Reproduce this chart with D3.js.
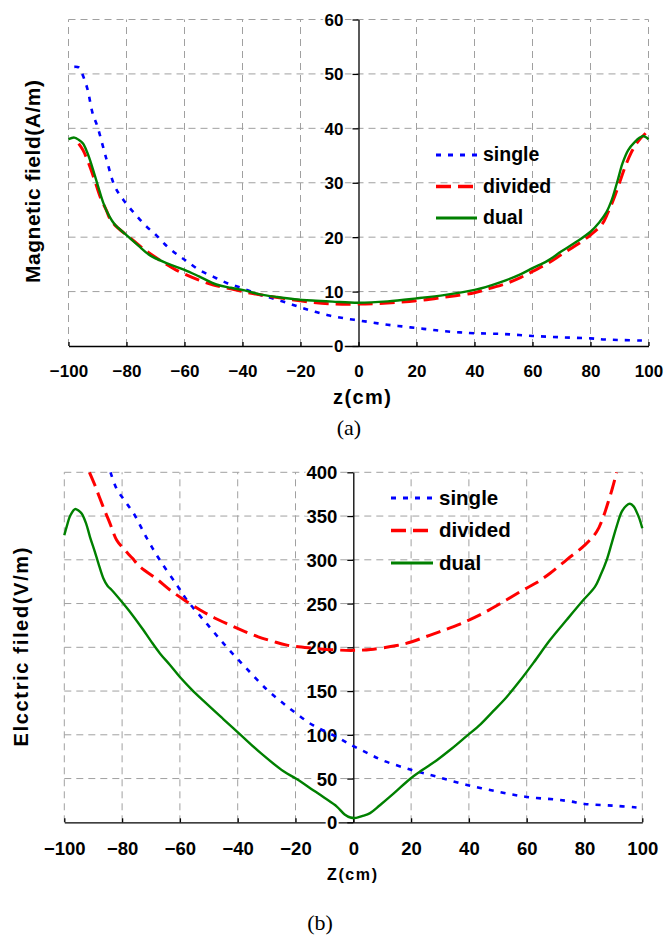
<!DOCTYPE html>
<html>
<head>
<meta charset="utf-8">
<script src="https://cdn.jsdelivr.net/npm/d3@7"></script>
<style>
  body { margin: 0; background: #fff; }
  svg { display: block; }
  text { font-family: "Liberation Sans", Arial, sans-serif; font-weight: bold; fill: #000; }
</style>
</head>
<body>
<div id="body"></div>
<script>
// ---- data ----
const xTicks = [-100, -80, -60, -40, -20, 0, 20, 40, 60, 80, 100];
const magTicks = [0, 10, 20, 30, 40, 50, 60];
const elecTicks = [0, 50, 100, 150, 200, 250, 300, 350, 400];
const seriesNames = ['single', 'divided', 'dual'];

// (a) magnetic field, A/m
const magSingleZ = [-98, -96.5, -95.5, -93.5, -91.7, -90, -87, -84, -81, -77, -73, -70, -66, -62, -59, -55, -50, -45, -40, -35, -30, -25, -20, -15, -10, -5, 0, 5, 10, 15, 20, 25, 30, 35, 40, 50, 60, 70, 80, 85, 90, 98];
const magSingleH = [51.3, 51.2, 50.3, 47.3, 42.8, 40.3, 34.5, 29.3, 26.8, 24.2, 21.9, 20.5, 18.3, 16.6, 15.5, 14.0, 12.7, 11.5, 10.6, 9.6, 8.8, 8.0, 7.1, 6.3, 5.6, 5.1, 4.7, 4.3, 3.9, 3.6, 3.3, 3.0, 2.7, 2.5, 2.35, 2.2, 1.85, 1.6, 1.4, 1.2, 1.1, 1.0];
const magDividedZ = [-96.5, -95, -93, -91, -89, -87, -85.5, -83, -79, -75, -70, -63, -55, -50, -44, -36, -26, -17, -9, 0, 10, 20, 30, 40, 46, 51, 56, 60, 65, 70, 75, 80, 84, 86, 88, 90, 92, 94, 96, 97, 99];
const magDividedH = [37.2, 36.0, 33.5, 30.5, 27.3, 25.0, 23.2, 21.7, 20.0, 18.2, 16.3, 14.0, 12.1, 11.2, 10.5, 9.6, 8.75, 8.1, 7.75, 7.7, 7.9, 8.3, 9.0, 9.8, 10.7, 11.5, 12.6, 13.7, 15.1, 16.8, 18.5, 20.4, 22.4, 24.5, 27.0, 30.0, 33.0, 35.5, 37.3, 38.0, 39.1];
const magDualZ = [-100, -98, -96.5, -95, -93.5, -92, -90, -88, -86, -84, -80.5, -76, -72, -66, -60, -55, -49, -44, -40, -34, -28, -22, -16, -9, 0, 10, 20, 30, 40, 46, 51, 56, 60, 65, 70, 75, 80, 83, 85.5, 87.3, 89.4, 91, 93, 95.3, 97, 98.2, 99, 100];
const magDualH = [38.0, 38.3, 37.9, 37.2, 35.5, 33.2, 29.7, 26.3, 23.9, 22.3, 20.6, 18.5, 16.7, 15.2, 14.0, 12.8, 11.3, 10.7, 10.3, 9.5, 9.0, 8.6, 8.35, 8.15, 7.95, 8.2, 8.75, 9.4, 10.3, 11.2, 12.1, 13.2, 14.3, 15.6, 17.4, 19.1, 21.0, 22.7, 24.6, 26.8, 30.5, 33.5, 36.0, 37.5, 38.3, 38.6, 38.4, 38.0];

// (b) electric field, V/m
const elecSingleZ = [-84, -82, -79, -76, -71.5, -67, -61, -57.6, -50.7, -44, -37, -30, -25, -20, -14, -6, 0, 5, 10, 20, 29, 39, 50, 60, 70, 75, 80, 90, 98];
const elecSingleE = [400, 382, 367, 353, 325, 300, 271, 254, 227, 201, 176, 152, 138, 125, 111, 98, 87, 79, 71, 60, 52, 43, 35, 29, 26, 24, 21, 19, 17];
const elecDividedZ = [-91.3, -89.5, -87.9, -86, -84.2, -81.9, -79.6, -76.5, -73.8, -68, -63.4, -58, -53, -48, -42.7, -37.5, -32.9, -28, -23, -14, -6, 0, 6, 15, 20, 25, 30, 36.9, 43.8, 51.9, 58.8, 63.5, 68.1, 73.8, 80.2, 84.2, 86.5, 88.2, 89.5, 90.5, 91.1];
const elecDividedE = [400, 386, 372, 356, 341.7, 322.6, 313, 302, 292, 278, 265.5, 253, 242.6, 233.5, 225.5, 218, 212, 207, 202.5, 199, 197, 196.5, 197.5, 202, 206, 212, 218, 226.6, 237, 252, 265.5, 274, 284.6, 300, 317, 332, 349, 366, 380, 392, 400];
const elecDualZ = [-100, -99, -98, -96.3, -95, -94, -92.5, -91.1, -89.5, -88.2, -86.5, -85, -83.6, -79.6, -76, -72.7, -70, -66.9, -63.5, -60, -56, -51.9, -45, -39, -32, -24, -19.6, -14, -10, -5.7, -3, -1, 1, 3, 5.8, 9.2, 14, 19.6, 24, 28.9, 34, 39.2, 44, 48.4, 53, 57.7, 62.5, 68, 74, 79.6, 83.6, 85.5, 87.7, 89.5, 91.1, 92.9, 94.5, 95.7, 97, 98, 99, 100];
const elecDualE = [328, 340, 350, 358, 356, 353, 342, 326, 310, 296, 279, 270, 265.5, 250, 235, 220, 207, 193, 180, 166, 152, 139, 118, 100, 79, 58, 49.5, 37, 28, 18, 9, 5.5, 5, 7, 10.5, 19.5, 33, 49.5, 60, 71, 84, 98.5, 112, 127, 143, 162, 183, 208, 232, 254, 269, 282, 300, 320, 338, 355, 362, 364, 361, 355, 347, 336];

const seriesStyle = {
    single: {color: '#0000ff', width: 2.6, dash: '5,7'},
    divided: {color: '#ff0000', width: 3, dash: '15,7'},
    dual: {color: '#008000', width: 2.4, dash: null}
};

function zip(zs, vs) {
    return zs.map((z, i) => [z, vs[i]]);
}

function figure() {
    figure.svg = d3.select('#body').append('svg')
        .attr('width', 665)
        .attr('height', 935);
    figure.panel({
        xRange: [68.5, 648.5], yRange: [346, 19.5], yDomain: [0, 60], yTicks: magTicks,
        tickFont: 17, labelOffset: 25, yPad: 9,
        series: [zip(magSingleZ, magSingleH), zip(magDividedZ, magDividedH), zip(magDualZ, magDualH)],
        legend: {x: 436, y: 155, step: 31.5, len: 41, gap: 6, font: 19.5},
        yLabel: {text: 'Magnetic field(A/m)', x: 40, y: 181.5, size: 21, len: 203},
        xLabel: {text: 'z(cm)', x: 362, y: 404, size: 20, len: 58},
        caption: {text: '(a)', x: 349, y: 435}
    });
    figure.panel({
        xRange: [64.3, 642.3], yRange: [822.3, 472.3], yDomain: [0, 400], yTicks: elecTicks,
        tickFont: 18.5, labelOffset: 26, yPad: 10,
        series: [zip(elecSingleZ, elecSingleE), zip(elecDividedZ, elecDividedE), zip(elecDualZ, elecDualE)],
        legend: {x: 391, y: 498, step: 32.5, len: 42, gap: 6, font: 20.5},
        yLabel: {text: 'Elcctric filed(V/m)', x: 28, y: 647, size: 20, len: 199},
        xLabel: {text: 'Z(cm)', x: 352, y: 880, size: 16, len: 50},
        caption: {text: '(b)', x: 320, y: 930}
    });
}

figure.panel = function (p) {
    let svg = figure.svg;
    let x = d3.scaleLinear().domain([-100, 100]).range(p.xRange);
    let y = d3.scaleLinear().domain(p.yDomain).range(p.yRange);
    let g = svg.append('g');

    // grid
    let grid = g.append('g')
        .attr('stroke', '#a0a0a0')
        .attr('stroke-width', 1)
        .attr('stroke-dasharray', '7,5');
    grid.selectAll('.hg').data(p.yTicks.filter(d => d !== 0)).join('line')
        .attr('x1', x(-100)).attr('x2', x(100))
        .attr('y1', d => y(d)).attr('y2', d => y(d));
    grid.selectAll('.vg').data(xTicks.filter(d => d !== 0)).join('line')
        .attr('x1', d => x(d)).attr('x2', d => x(d))
        .attr('y1', y(p.yDomain[0])).attr('y2', y(p.yDomain[1]));

    // x axis along the bottom, ticks pointing up
    let xAxis = g.append('g')
        .attr('transform', `translate(0,${y(0)})`)
        .call(d3.axisBottom(x).tickValues(xTicks).tickSizeInner(-4).tickSizeOuter(0).tickPadding(p.labelOffset - 6));
    // y axis through z = 0
    let yAxis = g.append('g')
        .attr('transform', `translate(${x(0)},0)`)
        .call(d3.axisLeft(y).tickValues(p.yTicks).tickSizeInner(6).tickSizeOuter(0).tickPadding(p.yPad));

    [xAxis, yAxis].forEach(function (ax) {
        ax.select('.domain').attr('stroke', '#000').attr('stroke-width', 1.3);
        ax.selectAll('.tick line').attr('stroke', '#000').attr('stroke-width', 1.3);
        ax.selectAll('.tick text')
            .attr('font-family', '"Liberation Sans", Arial, sans-serif')
            .attr('font-weight', 'bold')
            .attr('font-size', p.tickFont)
            .attr('fill', '#000')
            .attr('stroke', '#fff')
            .attr('stroke-width', 4)
            .attr('paint-order', 'stroke');
    });
    yAxis.selectAll('.tick text').attr('dy', '0.35em');
    xAxis.selectAll('.tick text').attr('dy', '0.71em');

    // curves
    let line = d3.line()
        .x(d => x(d[0]))
        .y(d => y(d[1]))
        .curve(d3.curveCatmullRom.alpha(0.5));
    p.series.forEach(function (data, i) {
        let st = seriesStyle[seriesNames[i]];
        g.append('path')
            .attr('d', line(data))
            .attr('fill', 'none')
            .attr('stroke', st.color)
            .attr('stroke-width', st.width)
            .attr('stroke-dasharray', st.dash);
    });

    // legend
    let lg = g.append('g');
    seriesNames.forEach(function (name, i) {
        let st = seriesStyle[name];
        let ly = p.legend.y + i * p.legend.step;
        lg.append('line')
            .attr('x1', p.legend.x).attr('x2', p.legend.x + p.legend.len)
            .attr('y1', ly).attr('y2', ly)
            .attr('stroke', st.color)
            .attr('stroke-width', st.width + 0.4)
            .attr('stroke-dasharray', st.dash);
        lg.append('text')
            .attr('x', p.legend.x + p.legend.len + p.legend.gap)
            .attr('y', ly)
            .attr('dy', '0.32em')
            .attr('font-size', p.legend.font)
            .text(name);
    });

    // axis titles
    g.append('text')
        .attr('transform', `translate(${p.yLabel.x},${p.yLabel.y}) rotate(-90)`)
        .attr('text-anchor', 'middle')
        .attr('font-size', p.yLabel.size)
        .attr('textLength', p.yLabel.len)
        .attr('lengthAdjust', 'spacing')
        .text(p.yLabel.text);
    g.append('text')
        .attr('x', p.xLabel.x)
        .attr('y', p.xLabel.y)
        .attr('text-anchor', 'middle')
        .attr('font-size', p.xLabel.size)
        .attr('textLength', p.xLabel.len)
        .attr('lengthAdjust', 'spacing')
        .text(p.xLabel.text);
    g.append('text')
        .attr('x', p.caption.x)
        .attr('y', p.caption.y)
        .attr('text-anchor', 'middle')
        .style('font-family', '"Liberation Serif", "Times New Roman", serif')
        .style('font-weight', 'normal')
        .attr('font-size', 22)
        .text(p.caption.text);
};

figure();
</script>
</body>
</html>
